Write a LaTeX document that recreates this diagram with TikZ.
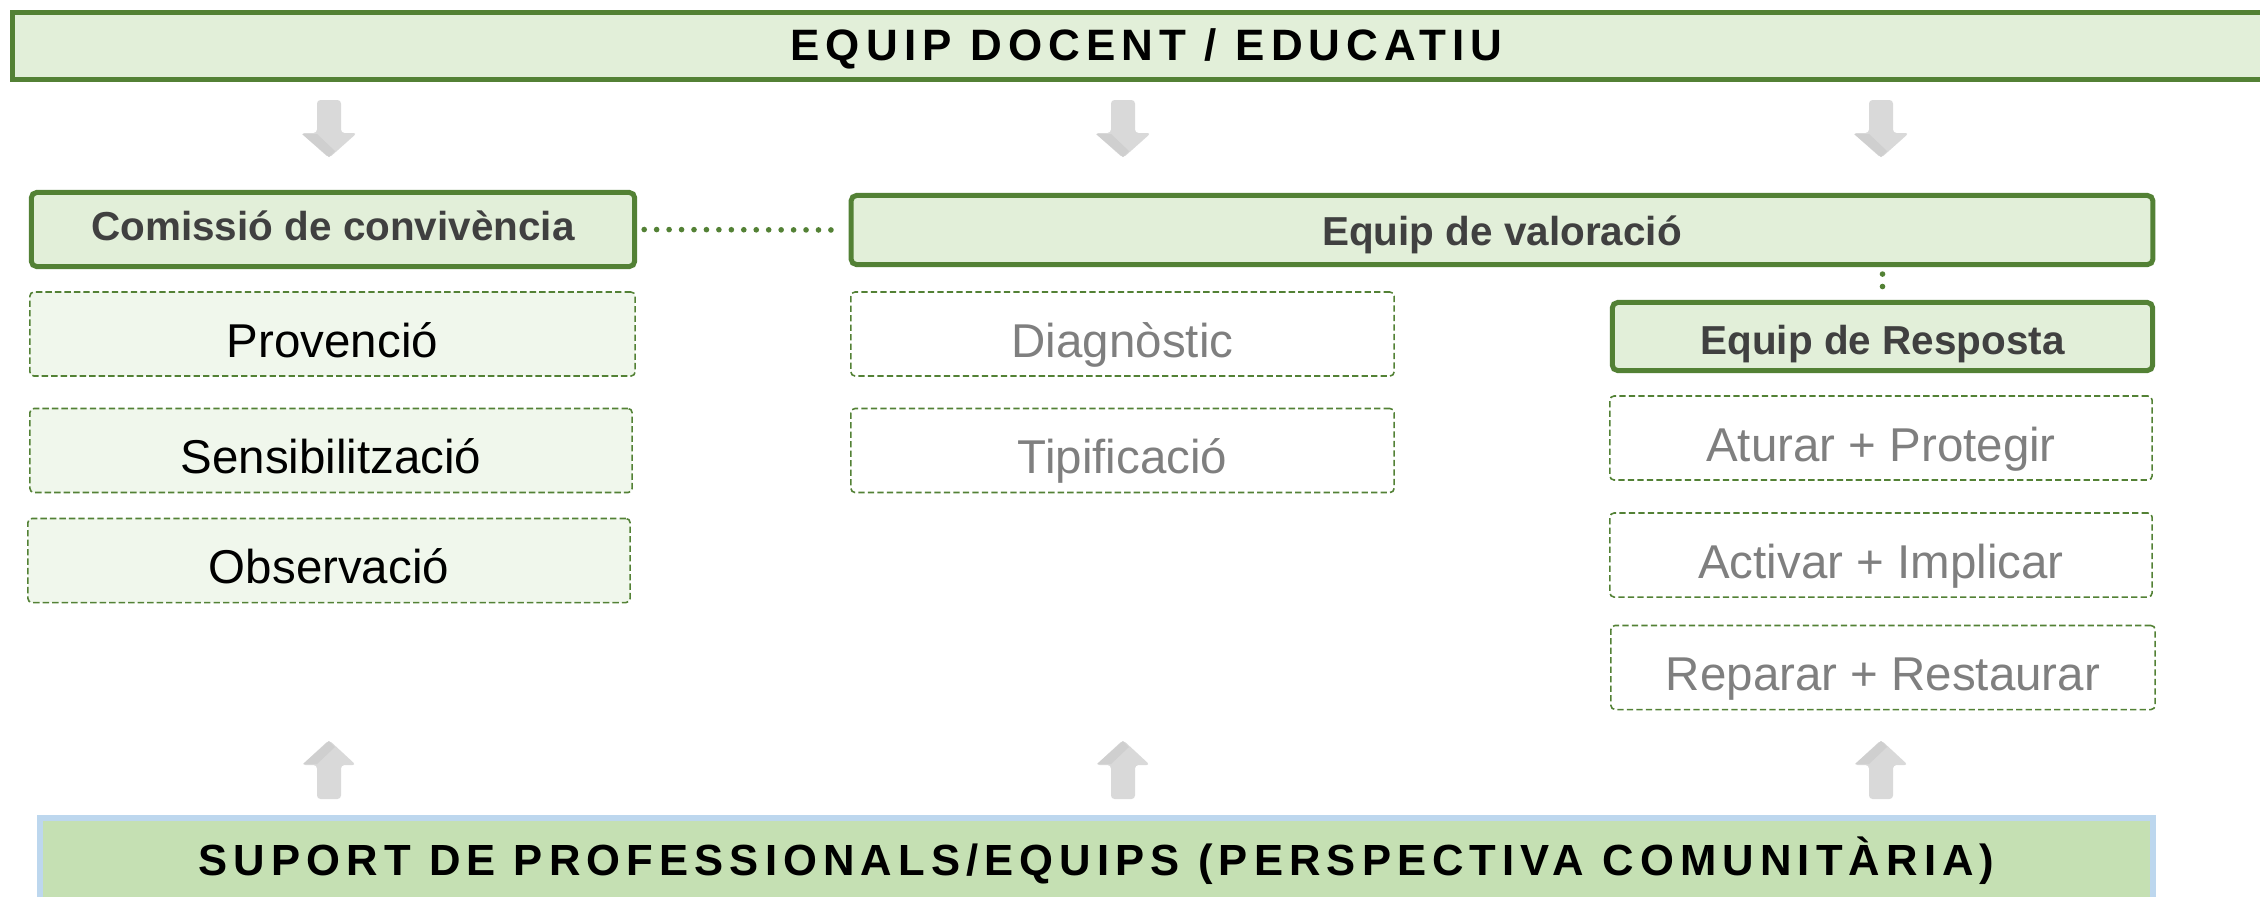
\documentclass[tikz,border=0pt]{standalone}
\usepackage{fontspec}
\setmainfont{Liberation Sans}
\newfontfamily\spacedfont[LetterSpace=14]{Liberation Sans}
\definecolor{darkgreen}{HTML}{538135}
\definecolor{palegreen}{HTML}{E2EFD9}
\definecolor{palergreen}{HTML}{F0F7EC}
\definecolor{supportgreen}{HTML}{C5E0B3}
\definecolor{supportblue}{HTML}{BDD7EE}
\definecolor{arrowgrey}{HTML}{D9D9D9}
\definecolor{arrowshade}{HTML}{CFCFCF}
\definecolor{darktext}{HTML}{404040}
\definecolor{greytext}{HTML}{7F7F7F}
\begin{document}
\begin{tikzpicture}[x=0.01cm,y=-0.01cm,
    bar/.style={line width=1.42pt,inner sep=0pt,text height=0.28cm,text depth=0pt,
      font=\spacedfont\bfseries\fontsize{12.5}{14}\selectfont},
    team/.style={draw=darkgreen,fill=palegreen,line width=1.42pt,rounded corners=1.5pt,inner sep=0pt,
      text=darktext,text height=0.3cm,text depth=0pt,font=\bfseries\fontsize{11.5}{14}\selectfont},
    task/.style={draw=darkgreen,line width=0.45pt,dash pattern=on 1.8pt off 0.9pt,rounded corners=1.2pt,
      inner sep=0pt,minimum height=0.84cm,text height=0.46cm,text depth=0pt,
      font=\fontsize{13.5}{16}\selectfont},
    link/.style={darkgreen,line width=1.6pt,line cap=round,dash pattern=on 0pt off 3.54pt,
      shorten <=2pt,shorten >=2pt}]

  \path[use as bounding box] (0,0) rectangle (2260,896);
  \clip (0,0) rectangle (2260,896);

  % teams
  \node[bar,draw=darkgreen,fill=palegreen,minimum width=22.66cm,minimum height=0.67cm] (docent) at (1146.5,46) {EQUIP DOCENT / EDUCATIU};
  \node[team,minimum width=6.03cm,minimum height=0.74cm,text height=0.21cm] (comissio) at (333,229.5) {Comissió de convivència};
  \node[team,minimum width=13.01cm,minimum height=0.69cm] (valoracio) at (1502,230) {Equip de valoració};
  \node[team,minimum width=5.40cm,minimum height=0.68cm,text height=0.35cm] (resposta) at (1882.5,336.5) {Equip de Resposta};

  % prevention tasks
  \node[task,fill=palergreen,minimum width=6.05cm] (provencio) at (332.5,334) {Provenció};
  \node[task,fill=palergreen,minimum width=6.02cm] (sensibilitzacio) at (331,450.5) {Sensibilització};
  \node[task,fill=palergreen,minimum width=6.02cm] (observacio) at (329,560.5) {Observació};

  % assessment and response tasks
  \node[task,text=greytext,minimum width=5.43cm] (diagnostic) at (1122.5,334) {Diagnòstic};
  \node[task,text=greytext,minimum width=5.43cm] (tipificacio) at (1122.5,450.5) {Tipificació};
  \node[task,text=greytext,minimum width=5.42cm] (aturar) at (1881,438) {Aturar + Protegir};
  \node[task,text=greytext,minimum width=5.42cm] (activar) at (1881,555) {Activar + Implicar};
  \node[task,text=greytext,minimum width=5.44cm] (reparar) at (1883,667.5) {Reparar + Restaurar};

  \node[bar,draw=supportblue,fill=supportgreen,line width=1.7pt,minimum width=21.11cm,minimum height=0.92cm,text height=0.22cm,
    font=\spacedfont\bfseries\fontsize{12.4}{14}\selectfont] (suport) at (1096.5,864) {SUPORT DE PROFESSIONALS/EQUIPS (PERSPECTIVA COMUNITÀRIA)};

  % dotted links
  \draw[link] (comissio.east) -- (valoracio.west);
  \draw[link] (valoracio.south -| resposta.north) -- (resposta.north);

  % grey arrows
  \foreach \x in {329,1123,1881} {
    \fill[arrowgrey,rounded corners=1pt] (\x-12,100) -- (\x+12,100) -- (\x+12,133) -- (\x+28,133)
      -- (\x,158) -- (\x-28,133) -- (\x-12,133) -- cycle;
    \fill[arrowshade] (\x-27,134) -- (\x-12,134) -- (\x+6,151) -- (\x,157) -- cycle;
    \fill[arrowgrey,rounded corners=1pt] (\x-12,799) -- (\x+12,799) -- (\x+12,765) -- (\x+27,765)
      -- (\x,740) -- (\x-27,765) -- (\x-12,765) -- cycle;
    \fill[arrowshade] (\x-26,764) -- (\x,741) -- (\x+6,747) -- (\x-12,764) -- cycle;
  }
\end{tikzpicture}
\end{document}
